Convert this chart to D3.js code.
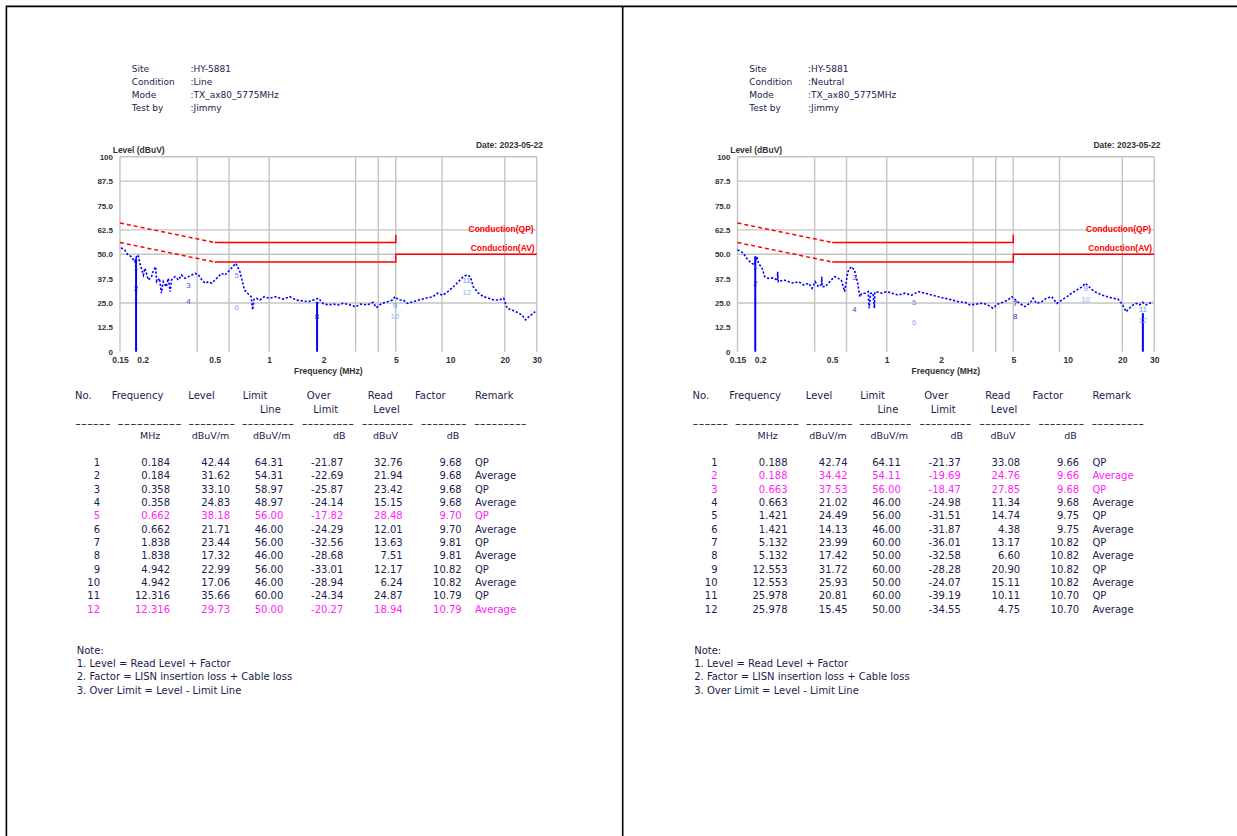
<!DOCTYPE html>
<html><head><meta charset="utf-8">
<script src="https://cdn.jsdelivr.net/npm/d3@7"></script>
<style>body{margin:0;background:#fff;} svg{display:block}</style>
</head><body><svg id="c" width="1237" height="836"></svg>
<script>
// ---------- DATA ----------
const xTickValues = [0.15, 0.2, 0.5, 1, 2, 5, 10, 20, 30];
const xTickLabels = ["0.15", "0.2", "0.5", "1", "2", "5", "10", "20", "30"];
const xGridValues = [0.15, 0.4, 0.6, 1, 3, 4, 5, 9, 20, 30];
const yTickValues = [0, 12.5, 25, 37.5, 50, 62.5, 75, 87.5, 100];
const yTickLabels = ["0", "12.5", "25.0", "37.5", "50.0", "62.5", "75.0", "87.5", "100"];
const yGridValues = [25, 50, 62.5, 87.5, 100];

const qpLimitFreq = [0.15, 0.5, 5, 5];
const qpLimitLevel = [66, 56, 56, 60];
const avLimitFreq = [0.15, 0.5, 5, 5, 30];
const avLimitLevel = [56, 46, 46, 50, 50];

const headerLabels = ["Site", "Condition", "Mode", "Test by"];
const lineHeaderValues = [":HY-5881", ":Line", ":TX_ax80_5775MHz", ":Jimmy"];
const neutralHeaderValues = [":HY-5881", ":Neutral", ":TX_ax80_5775MHz", ":Jimmy"];
const dateText = "Date: 2023-05-22";

// Line trace
const lineTraceFreq = [0.152,0.159,0.166,0.174,0.178,0.181,0.185,0.189,0.193,0.202,0.206,0.215,0.224,0.228,0.236,0.239,0.248,0.254,0.260,0.270,0.277,0.284,0.289,0.302,0.315,0.328,0.343,0.358,0.374,0.390,0.407,0.425,0.443,0.462,0.481,0.502,0.524,0.546,0.569,0.593,0.618,0.645,0.655,0.689,0.715,0.730,0.760,0.795,0.810,0.825,0.850,0.888,0.940,1.00,1.09,1.19,1.30,1.41,1.55,1.64,1.75,1.87,1.98,2.12,2.27,2.42,2.56,2.80,3.00,3.20,3.49,3.75,3.90,4.20,4.50,4.80,4.95,5.20,5.50,5.80,6.20,6.70,7.30,8.00,8.50,9.10,9.70,10.4,11.1,11.8,12.3,12.9,13.4,14.3,15.3,16.3,17.4,18.5,19.7,20.6,21.9,23.4,24.9,26.0,27.6,29.4];
const lineTraceLevel = [53.3,52.2,49.6,48.7,47.0,46.2,48.7,49.6,45.3,39.3,42.8,36.8,38.5,41.0,43.6,35.9,37.6,30.0,35.9,33.3,37.6,30.8,36.8,38.5,36.8,39.3,37.6,38.5,39.3,40.2,39.3,36.8,35.1,35.9,35.1,36.8,38.5,40.2,39.3,41.0,42.8,44.8,45.3,41.0,35.1,31.6,30.0,28.2,21.4,27.0,27.4,26.5,28.2,27.4,28.2,27.0,28.2,26.5,26.0,25.6,26.5,27.4,24.8,24.0,24.4,24.0,24.8,24.0,23.0,24.4,24.0,25.3,22.6,24.8,25.6,26.5,28.2,26.5,26.5,24.8,25.6,26.5,27.4,28.2,30.0,29.0,30.8,33.3,35.9,38.5,39.3,38.5,33.3,30.0,28.2,27.4,26.5,26.5,27.4,22.3,21.4,20.2,18.8,16.3,18.5,20.5];
const lineSpikeFreq = [0.184, 1.838];
const lineSpikeTop = [47.9, 25.6];

// Neutral trace
const neutralTraceFreq = [0.150,0.155,0.162,0.166,0.172,0.180,0.186,0.192,0.196,0.205,0.212,0.222,0.237,0.249,0.250,0.252,0.270,0.288,0.307,0.327,0.348,0.371,0.387,0.403,0.420,0.437,0.438,0.440,0.457,0.476,0.495,0.516,0.539,0.561,0.586,0.610,0.637,0.664,0.692,0.710,0.730,0.760,0.790,0.800,0.815,0.840,0.855,0.860,0.870,0.940,1.00,1.07,1.16,1.26,1.37,1.50,1.63,1.78,1.93,2.10,2.29,2.49,2.70,2.88,3.13,3.34,3.55,3.86,4.10,4.38,4.67,4.90,5.08,5.42,5.78,6.17,6.43,6.71,7.16,7.63,8.15,8.69,9.27,9.89,10.5,11.2,12.0,12.5,13.1,13.7,14.6,15.6,16.6,17.7,18.9,20.1,21.0,21.9,22.9,23.9,24.9,25.9,27.1,28.3,29.5];
const neutralTraceLevel = [52.2,51.6,50.5,48.7,47.0,45.3,44.5,48.7,45.3,42.8,38.5,37.6,37.9,36.5,41.0,35.9,36.8,35.9,35.1,35.9,34.2,35.1,32.5,35.9,33.3,34.5,38.5,33.5,33.3,35.1,36.8,38.5,37.6,36.8,30.8,41.0,43.6,41.9,35.1,28.2,30.0,30.0,30.8,22.3,30.0,30.0,22.3,30.5,30.8,30.0,30.8,30.0,29.0,30.0,29.0,30.8,30.0,29.0,28.2,27.4,26.5,25.6,25.3,24.0,24.4,24.8,24.4,22.3,24.4,25.3,26.5,28.2,27.0,24.8,23.1,24.8,27.4,24.8,25.6,27.4,28.2,24.8,26.5,28.2,30.0,31.6,33.3,35.1,33.3,31.6,30.0,29.0,28.2,27.4,27.0,24.0,20.5,22.3,24.0,24.8,24.0,25.3,24.0,24.8,25.6];
const neutralSpikeFreq = [0.188, 25.978];
const neutralSpikeTop = [49.0, 19.7];

// Tables
const tableNo = [1,2,3,4,5,6,7,8,9,10,11,12];
const lineFreq   = [0.184,0.184,0.358,0.358,0.662,0.662,1.838,1.838,4.942,4.942,12.316,12.316];
const lineLevel  = [42.44,31.62,33.10,24.83,38.18,21.71,23.44,17.32,22.99,17.06,35.66,29.73];
const lineLimit  = [64.31,54.31,58.97,48.97,56.00,46.00,56.00,46.00,56.00,46.00,60.00,50.00];
const lineOver   = [-21.87,-22.69,-25.87,-24.14,-17.82,-24.29,-32.56,-28.68,-33.01,-28.94,-24.34,-20.27];
const lineRead   = [32.76,21.94,23.42,15.15,28.48,12.01,13.63,7.51,12.17,6.24,24.87,18.94];
const lineFactor = [9.68,9.68,9.68,9.68,9.70,9.70,9.81,9.81,10.82,10.82,10.79,10.79];
const lineHighlight = [5, 12];

const neutralFreq   = [0.188,0.188,0.663,0.663,1.421,1.421,5.132,5.132,12.553,12.553,25.978,25.978];
const neutralLevel  = [42.74,34.42,37.53,21.02,24.49,14.13,23.99,17.42,31.72,25.93,20.81,15.45];
const neutralLimit  = [64.11,54.11,56.00,46.00,56.00,46.00,60.00,50.00,60.00,50.00,60.00,50.00];
const neutralOver   = [-21.37,-19.69,-18.47,-24.98,-31.51,-31.87,-36.01,-32.58,-28.28,-24.07,-39.19,-34.55];
const neutralRead   = [33.08,24.76,27.85,11.34,14.74,4.38,13.17,6.60,20.90,15.11,10.11,4.75];
const neutralFactor = [9.66,9.66,9.68,9.68,9.75,9.75,10.82,10.82,10.82,10.82,10.70,10.70];
const neutralHighlight = [2, 3];
const tableRemark = ["QP","Average","QP","Average","QP","Average","QP","Average","QP","Average","QP","Average"];

const noteLines = ["Note:", "1. Level = Read Level + Factor", "2. Factor = LISN insertion loss + Cable loss", "3. Over Limit = Level - Limit Line"];

// ---------- DRAWING ----------
const svg = d3.select("#c");
const textColor = "#1c1c4e";
const magenta = "#ff22ff";
const markerColors = ["#2020c0","#2020c0","#4a4ad8","#5a40d0","#9a70e8","#b494f4","#2020c0","#2a2ac8","#6c98f4","#86b4ff","#6c98f4","#86b4ff"];

// frame
svg.append("path").attr("d", "M6.4,836 V6.4 H1237 M622.7,6.4 V836")
  .attr("stroke", "#000").attr("stroke-width", 1.6).attr("fill", "none");

function panel(dx, cfg) {
  const g = svg.append("g").attr("transform", `translate(${dx},0)`);

  // header block
  const hdr = g.append("g").attr("font-family", "DejaVu Sans").attr("font-size", 9).attr("fill", textColor);
  headerLabels.forEach((t, i) => {
    const yy = 71.5 + i * 13.3;
    hdr.append("text").attr("x", 131.7).attr("y", yy).text(t);
    hdr.append("text").attr("x", 190.5).attr("y", yy).text(cfg.header[i]);
  });

  // chart
  const x = d3.scaleLog().domain([0.15, 30]).range([120, 536.7]);
  const y = d3.scaleLinear().domain([0, 100]).range([351.7, 156.7]);

  const grid = g.append("g").attr("stroke", "#c4c4c4").attr("stroke-width", 1.4);
  grid.selectAll("line.v").data(xGridValues).join("line")
    .attr("x1", d => x(d)).attr("x2", d => x(d)).attr("y1", y(100)).attr("y2", y(0));
  grid.selectAll("line.h").data(yGridValues).join("line")
    .attr("x1", x(0.15)).attr("x2", x(30)).attr("y1", d => y(d)).attr("y2", d => y(d));

  const yAxis = d3.axisLeft(y).tickValues(yTickValues).tickFormat((d, i) => yTickLabels[i]).tickSize(0).tickPadding(7);
  const ya = g.append("g").attr("transform", `translate(${x(0.15)},0)`).call(yAxis);
  ya.select(".domain").remove();
  ya.selectAll("text").attr("font-family", "Liberation Sans").attr("font-weight", "bold").attr("font-size", 8).attr("fill", "#333");

  const xAxis = d3.axisBottom(x).tickValues(xTickValues).tickFormat((d, i) => xTickLabels[i]).tickSize(0).tickPadding(5);
  const xa = g.append("g").attr("transform", `translate(0,${y(0)})`).call(xAxis);
  xa.select(".domain").remove();
  xa.selectAll("text").attr("font-family", "Liberation Sans").attr("font-weight", "bold").attr("font-size", 8.5).attr("fill", "#333");

  const lab = g.append("g").attr("font-family", "Liberation Sans").attr("font-weight", "bold").attr("font-size", 8.5).attr("fill", "#333");
  lab.append("text").attr("x", 112.7).attr("y", 153).text("Level (dBuV)");
  lab.append("text").attr("x", 543).attr("y", 148).attr("text-anchor", "end").text(dateText);
  lab.append("text").attr("x", (x(0.15) + x(30)) / 2).attr("y", 373.5).attr("text-anchor", "middle").text("Frequency (MHz)");

  // limit lines
  function limit(freqs, levels) {
    const pts = freqs.map((f, i) => [x(f), y(levels[i])]);
    g.append("path").attr("d", d3.line()(pts.slice(0, 2))).attr("stroke", "#ff0000").attr("stroke-width", 1.5)
      .attr("stroke-dasharray", "4,3").attr("fill", "none");
    g.append("path").attr("d", d3.line()(pts.slice(1))).attr("stroke", "#ff0000").attr("stroke-width", 1.5).attr("fill", "none");
  }
  limit(qpLimitFreq, qpLimitLevel);
  limit(avLimitFreq, avLimitLevel);
  const cl = g.append("g").attr("font-family", "Liberation Sans").attr("font-weight", "bold").attr("font-size", 8.5).attr("fill", "#ff0000").attr("text-anchor", "end");
  cl.append("text").attr("x", x(30) - 3).attr("y", 232).text("Conduction(QP)");
  cl.append("text").attr("x", x(30) - 2).attr("y", 251).text("Conduction(AV)");

  // spikes
  g.append("g").selectAll("line").data(cfg.spikeFreq).join("line")
    .attr("x1", d => x(d)).attr("x2", d => x(d))
    .attr("y1", y(0)).attr("y2", (d, i) => y(cfg.spikeTop[i]))
    .attr("stroke", "#0000ff").attr("stroke-width", 2);

  // trace
  const trace = cfg.traceFreq.map((f, i) => [x(f), y(cfg.traceLevel[i])]);
  g.append("path").attr("d", d3.line()(trace)).attr("fill", "none").attr("stroke", "#0000ff")
    .attr("stroke-width", 1.6).attr("stroke-dasharray", "2.2,1.8");

  // marker labels
  g.append("g").attr("font-family", "Liberation Sans").attr("font-size", 8).attr("text-anchor", "middle")
    .selectAll("text").data(tableNo).join("text")
    .attr("x", (d, i) => x(cfg.freq[i])).attr("y", (d, i) => y(cfg.level[i]) + 1)
    .attr("fill", (d, i) => markerColors[i]).text(d => d);

  // table
  const tb = g.append("g").attr("font-family", "DejaVu Sans").attr("font-size", 10).attr("fill", textColor);
  const h1 = [["No.", 75], ["Frequency", 111.7], ["Level", 188.3], ["Limit", 242.7], ["Over", 306.7], ["Read", 367.7], ["Factor", 415], ["Remark", 475]];
  const h2 = [["Line", 260], ["Limit", 313.3], ["Level", 373.3]];
  const h3 = [["MHz", 140], ["dBuV/m", 191.7], ["dBuV/m", 253], ["dB", 333], ["dBuV", 373], ["dB", 446.7]];
  h1.forEach(([t, xx]) => tb.append("text").attr("x", xx).attr("y", 398.5).text(t));
  h2.forEach(([t, xx]) => tb.append("text").attr("x", xx).attr("y", 412.5).text(t));
  h3.forEach(([t, xx]) => tb.append("text").attr("x", xx).attr("y", 439.2).attr("font-size", 9.5).text(t));
  const dashes = [[75, 110.7, 6], [117.3, 181.7, 10], [188.3, 235, 8], [241.7, 294, 9], [301.7, 354, 9], [361.7, 413.3, 9], [420.7, 466.7, 8], [474, 526.7, 9]];
  dashes.forEach(([a, b, n]) => tb.append("text").attr("x", a).attr("y", 426.5)
    .attr("textLength", b - a).attr("lengthAdjust", "spacingAndGlyphs").text("-".repeat(n)));

  const cols = [
    [tableNo, 100, d => String(d)],
    [cfg.freq, 170, d => d.toFixed(3)],
    [cfg.level, 230, d => d.toFixed(2)],
    [cfg.limit, 283.3, d => d.toFixed(2)],
    [cfg.over, 343.3, d => d.toFixed(2)],
    [cfg.read, 402.7, d => d.toFixed(2)],
    [cfg.factor, 461.7, d => d.toFixed(2)]
  ];
  tableNo.forEach((n, i) => {
    const yy = 465.8 + i * 13.36;
    const col = cfg.highlight.includes(n) ? magenta : textColor;
    cols.forEach(([arr, xr, fmt]) => {
      tb.append("text").attr("x", xr).attr("y", yy).attr("text-anchor", "end").attr("fill", col).text(fmt(arr[i]));
    });
    tb.append("text").attr("x", 475).attr("y", yy).attr("fill", col).text(tableRemark[i]);
  });

  // notes
  noteLines.forEach((t, i) => {
    tb.append("text").attr("x", 76.7).attr("y", 653.5 + i * 13.4).text(t);
  });
}

panel(0, {
  header: lineHeaderValues, traceFreq: lineTraceFreq, traceLevel: lineTraceLevel,
  spikeFreq: lineSpikeFreq, spikeTop: lineSpikeTop,
  freq: lineFreq, level: lineLevel, limit: lineLimit, over: lineOver, read: lineRead, factor: lineFactor,
  highlight: lineHighlight
});
panel(617.5, {
  header: neutralHeaderValues, traceFreq: neutralTraceFreq, traceLevel: neutralTraceLevel,
  spikeFreq: neutralSpikeFreq, spikeTop: neutralSpikeTop,
  freq: neutralFreq, level: neutralLevel, limit: neutralLimit, over: neutralOver, read: neutralRead, factor: neutralFactor,
  highlight: neutralHighlight
});
</script>
</body></html>
